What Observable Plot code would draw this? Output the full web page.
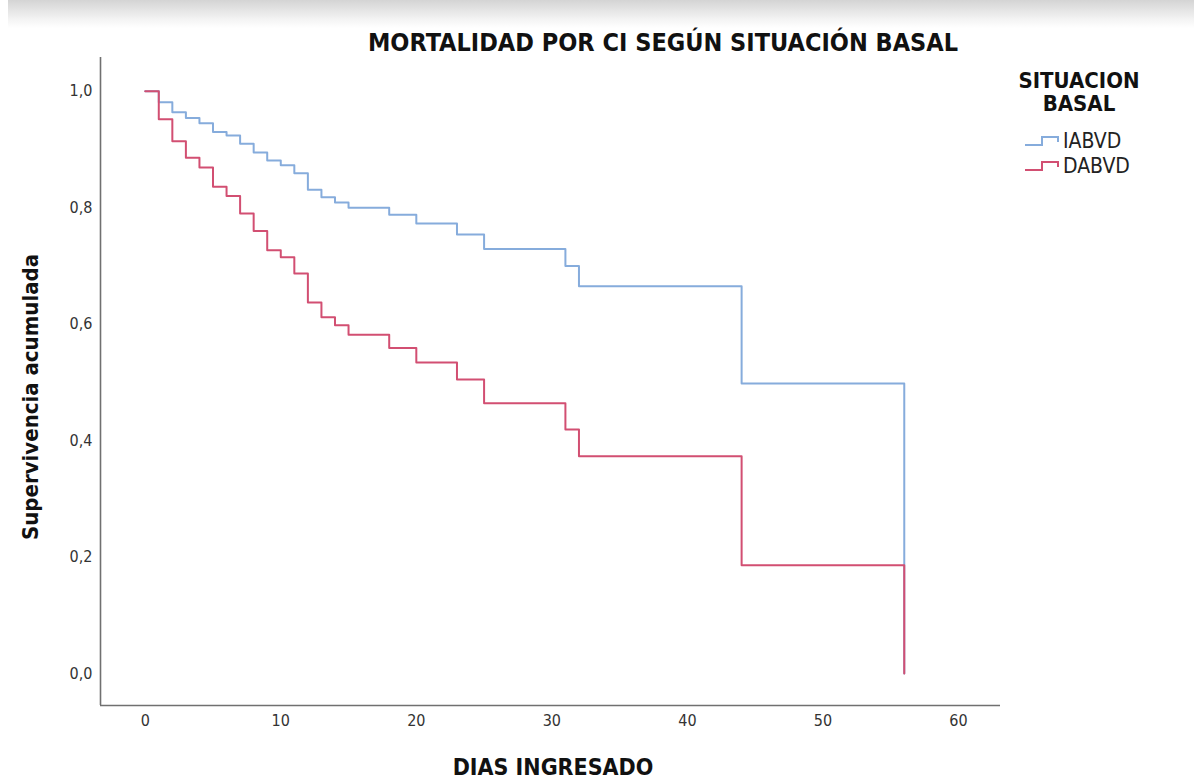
<!DOCTYPE html>
<html>
<head>
<meta charset="utf-8">
<script src="https://cdn.jsdelivr.net/npm/d3@7"></script>
<script src="https://cdn.jsdelivr.net/npm/@observablehq/plot@0.6"></script>
<style>
  html, body { margin: 0; padding: 0; background: #fff; }
  #wrap { position: relative; width: 1194px; height: 780px; overflow: hidden; background: #fff; }
  #band { position: absolute; left: 8px; top: 0; width: 1186px; height: 28px;
          background: linear-gradient(#d4d4d4, #f4f4f4 70%, #ffffff); }
  .t { position: absolute; font-family: "DejaVu Sans Condensed", sans-serif; font-weight: bold; color: #111; white-space: nowrap; line-height: 1; }
  #title { left: 663px; top: 42px; transform: translate(-50%, -50%); font-size: 25px; }
  #ylab { left: 31px; top: 397px; transform: translate(-50%, -50%) rotate(-90deg); font-size: 22px; }
  #xlab { left: 553px; top: 767px; transform: translate(-50%, -50%); font-size: 23px; }
  .lt { left: 1079px; transform: translate(-50%, -50%); font-size: 22px; }
  .leg { position: absolute; left: 1024px; height: 22px; display: flex; align-items: center; font-family: "DejaVu Sans Condensed", sans-serif; font-size: 21px; color: #222; }
  #chart { position: absolute; left: 0; top: 0; }
</style>
</head>
<body>
<div id="wrap">
  <div id="band"></div>
  <div id="chart"></div>
  <div class="t" id="title">MORTALIDAD POR CI SEGÚN SITUACIÓN BASAL</div>
  <div class="t" id="ylab">Supervivencia acumulada</div>
  <div class="t" id="xlab">DIAS INGRESADO</div>
  <div class="t lt" style="top:81px">SITUACION</div>
  <div class="t lt" style="top:104px">BASAL</div>
  <div id="legend"></div>
</div>
<script>
// Data (Kaplan-Meier step curves)
const seriesNames = ["IABVD", "DABVD"];
const seriesColors = ["#86acdc", "#d24f72"];

const daysIABVD = [0, 1, 2, 3, 4, 5, 6, 7, 8, 9, 10, 11, 12, 13, 14, 15, 18, 20, 23, 25, 31, 32, 44, 56];
const survIABVD = [1.0, 0.981, 0.964, 0.954, 0.945, 0.930, 0.924, 0.910, 0.895, 0.881, 0.873, 0.859, 0.831, 0.818, 0.809, 0.800, 0.788, 0.773, 0.754, 0.729, 0.700, 0.665, 0.498, 0.0];

const daysDABVD = [0, 1, 2, 3, 4, 5, 6, 7, 8, 9, 10, 11, 12, 13, 14, 15, 18, 20, 23, 25, 31, 32, 44, 56];
const survDABVD = [1.0, 0.952, 0.914, 0.886, 0.869, 0.836, 0.820, 0.790, 0.760, 0.727, 0.715, 0.687, 0.637, 0.612, 0.598, 0.582, 0.559, 0.534, 0.505, 0.464, 0.419, 0.373, 0.186, 0.0];

const xTicks = [0, 10, 20, 30, 40, 50, 60];
const yTicks = [0, 0.2, 0.4, 0.6, 0.8, 1.0];

const xDomain = [-3.3, 63.1];
const yDomain = [-0.055, 1.058];

const iabvd = daysIABVD.map((d, i) => ({day: d, s: survIABVD[i], g: "IABVD"}));
const dabvd = daysDABVD.map((d, i) => ({day: d, s: survDABVD[i], g: "DABVD"}));

const fmt = v => v.toFixed(1).replace(".", ",");

const chart = Plot.plot({
  width: 1194,
  height: 780,
  marginLeft: 100,
  marginRight: 194,
  marginTop: 57,
  marginBottom: 75,
  style: {background: "transparent", fontFamily: "'DejaVu Sans Condensed', sans-serif", fontSize: "16px", color: "#333"},
  x: {domain: xDomain},
  y: {domain: yDomain},
  marks: [
    Plot.axisX(xTicks, {tickSize: 0, tickPadding: 9, label: null, fill: "#333", fontSize: 16}),
    Plot.axisY(yTicks, {tickSize: 0, tickPadding: 8, label: null, tickFormat: fmt, fill: "#333", fontSize: 16}),
    Plot.ruleX([xDomain[0]], {stroke: "#707070", strokeWidth: 1.6}),
    Plot.ruleY([yDomain[0]], {stroke: "#707070", strokeWidth: 1.6}),
    Plot.line(iabvd, {x: "day", y: "s", curve: "step-after", stroke: seriesColors[0], strokeWidth: 2}),
    Plot.line(dabvd, {x: "day", y: "s", curve: "step-after", stroke: seriesColors[1], strokeWidth: 2})
  ]
});
document.getElementById("chart").appendChild(chart);

// Legend
const legend = document.getElementById("legend");
seriesNames.forEach((name, i) => {
  const row = document.createElement("div");
  row.className = "leg";
  row.style.top = (130 + i * 25) + "px";
  row.innerHTML = `<svg width="38" height="20" style="margin-right:1px"><path d="M1,14 H18 V6 H34 V11" fill="none" stroke="${seriesColors[i]}" stroke-width="2"/></svg><span>${name}</span>`;
  legend.appendChild(row);
});
</script>
</body>
</html>
